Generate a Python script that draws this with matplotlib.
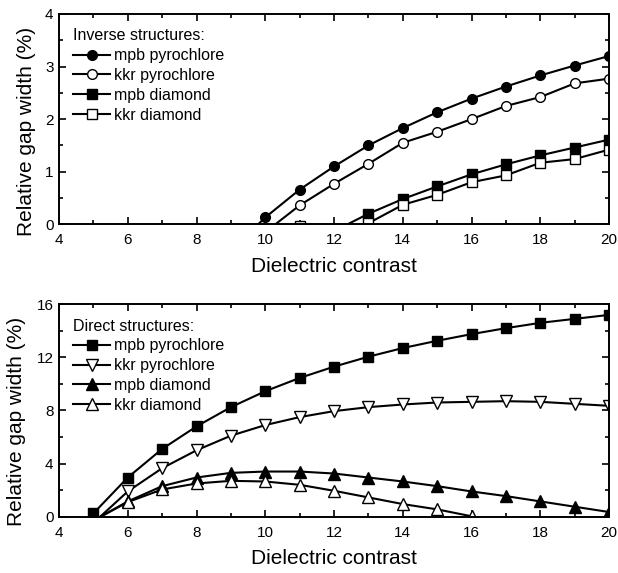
import numpy as np
import matplotlib
matplotlib.use("Agg")
import matplotlib.pyplot as plt
from matplotlib.ticker import MultipleLocator

plt.rcParams['font.family'] = ['Liberation Sans', 'DejaVu Sans']

# inverse structures
x_inv = [9, 10, 11, 12, 13, 14, 15, 16, 17, 18, 19, 20]
inv_mpb_pyro = [-0.5, 0.13, 0.66, 1.10, 1.50, 1.83, 2.13, 2.39, 2.62, 2.83, 3.02, 3.20]
inv_kkr_pyro = [np.nan, -0.15, 0.36, 0.77, 1.15, 1.55, 1.76, 2.00, 2.25, 2.42, 2.68, 2.77]
inv_mpb_dia = [np.nan, np.nan, np.nan, -0.13, 0.20, 0.48, 0.72, 0.95, 1.14, 1.31, 1.46, 1.61]
inv_kkr_dia = [np.nan, np.nan, -0.03, -0.25, 0.02, 0.37, 0.56, 0.80, 0.93, 1.17, 1.24, 1.42]

# direct structures
x_dir = [5, 6, 7, 8, 9, 10, 11, 12, 13, 14, 15, 16, 17, 18, 19, 20]
dir_mpb_pyro = [0.25, 2.95, 5.1, 6.8, 8.25, 9.45, 10.45, 11.3, 12.05, 12.7, 13.25, 13.75, 14.2, 14.6, 14.9, 15.2]
dir_kkr_pyro = [-0.47, 1.9, 3.65, 5.0, 6.1, 6.9, 7.5, 7.95, 8.25, 8.45, 8.6, 8.65, 8.7, 8.65, 8.5, 8.35]
dir_mpb_dia = [-0.3, 1.15, 2.3, 2.95, 3.3, 3.4, 3.4, 3.25, 2.95, 2.65, 2.3, 1.9, 1.55, 1.15, 0.75, 0.35]
dir_kkr_dia = [-0.3, 1.1, 2.05, 2.5, 2.7, 2.65, 2.4, 1.95, 1.45, 0.95, 0.55, 0.03, np.nan, np.nan, np.nan, np.nan]

labels = ['mpb pyrochlore', 'kkr pyrochlore', 'mpb diamond', 'kkr diamond']

fig = plt.figure(figsize=(6.18, 5.73), dpi=100)
ax1 = fig.add_axes([0.0955, 0.6086, 0.890, 0.367])
ax2 = fig.add_axes([0.0955, 0.0983, 0.890, 0.3707])

kw = dict(color='black', lw=1.5, mew=1.0)
ax1.plot(x_inv, inv_mpb_pyro, marker='o', ms=7, mfc='black', label=labels[0], **kw)
ax1.plot(x_inv, inv_kkr_pyro, marker='o', ms=7, mfc='white', label=labels[1], **kw)
ax1.plot(x_inv, inv_mpb_dia, marker='s', ms=6.5, mfc='black', label=labels[2], **kw)
ax1.plot(x_inv, inv_kkr_dia, marker='s', ms=6.5, mfc='white', label=labels[3], **kw)

ax2.plot(x_dir, dir_mpb_pyro, marker='s', ms=6.5, mfc='black', label=labels[0], **kw)
ax2.plot(x_dir, dir_kkr_pyro, marker='v', ms=8.5, mfc='white', label=labels[1], **kw)
ax2.plot(x_dir, dir_mpb_dia, marker='^', ms=8.5, mfc='black', label=labels[2], **kw)
ax2.plot(x_dir, dir_kkr_dia, marker='^', ms=8.5, mfc='white', label=labels[3], **kw)

setup = [(ax1, 4, 1, 'Inverse structures:', -0.042, 0.441),
         (ax2, 16, 4, 'Direct structures:', -0.060, 0.447)]
for ax, ymax, ystep, title, lx, ly in setup:
    ax.set_xlim(4, 20)
    ax.set_ylim(0, ymax)
    ax.xaxis.set_major_locator(MultipleLocator(2))
    ax.xaxis.set_minor_locator(MultipleLocator(1))
    ax.yaxis.set_major_locator(MultipleLocator(ystep))
    ax.yaxis.set_minor_locator(MultipleLocator(ystep / 2))
    ax.tick_params(which='both', direction='in', top=True, right=True, labelsize=11, width=1.2)
    ax.tick_params(which='major', length=5)
    ax.tick_params(which='minor', length=3)
    ax.tick_params(axis='x', pad=6.5)
    ax.tick_params(axis='y', pad=4)
    for s in ax.spines.values():
        s.set_linewidth(1.4)
    ax.set_xlabel('Dielectric contrast', fontsize=15, labelpad=7)
    ax.set_ylabel('Relative gap width (%)', fontsize=15)
    ax.yaxis.set_label_coords(lx, ly)
    ax.legend(title=title, loc='upper left', frameon=False, fontsize=11.5,
              title_fontsize=11.5, alignment='left', handlelength=2.3,
              handletextpad=0.25, labelspacing=0.3, borderaxespad=0.5,
              borderpad=0.4)

fig.savefig('out.png', dpi=100)
